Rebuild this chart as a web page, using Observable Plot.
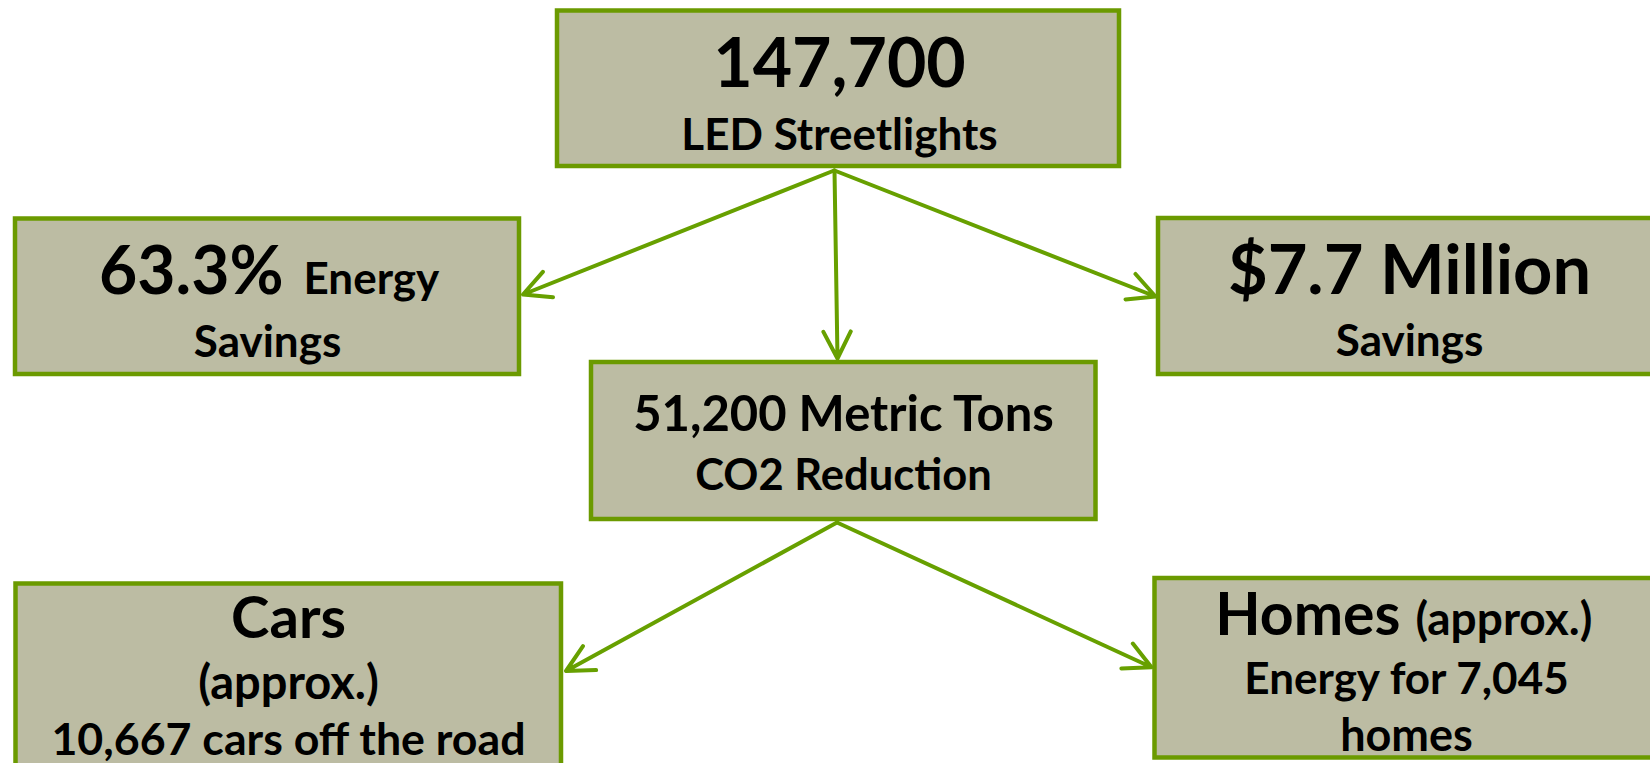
<!DOCTYPE html>
<html>
<head>
<meta charset="utf-8">
<script src="https://cdn.jsdelivr.net/npm/d3@7"></script>
<script src="https://cdn.jsdelivr.net/npm/@observablehq/plot@0.6"></script>
<style>
  html, body { margin: 0; padding: 0; background: #ffffff; overflow: hidden; }
  #chart svg { display: block; }
</style>
</head>
<body>
<div id="chart"></div>
<script>
// ---- content ----
const boxIds = ["lights", "energy", "money", "co2", "cars", "homes"];
const headlines = ["147,700", "63.3%", "$7.7 Million", "51,200 Metric Tons", "Cars", "Homes"];
const headSuffix = ["", "Energy", "", "", "", "(approx.)"];
const subLines = [
  ["LED Streetlights"],
  ["Savings"],
  ["Savings"],
  ["CO2 Reduction"],
  ["(approx.)", "10,667 cars off the road"],
  ["Energy for 7,045", "homes"]
];
const links = [
  ["lights", "energy"], ["lights", "co2"], ["lights", "money"],
  ["co2", "cars"], ["co2", "homes"]
];

// ---- layout (diagram geometry, in pixels) ----
const W = 1650, H = 763;
const boxLayout = {
  lights: {x1: 557, x2: 1119, y1: 10.5, y2: 166, cx: 839},
  energy: {x1: 15, x2: 519, y1: 218.5, y2: 374, cx: 267, split: 283, gap: 20},
  money:  {x1: 1158, x2: 1680, y1: 218, y2: 374, cx: 1409},
  co2:    {x1: 591, x2: 1095.5, y1: 362, y2: 519, cx: 843},
  cars:   {x1: 15.5, x2: 561, y1: 583.5, y2: 800, cx: 288},
  homes:  {x1: 1154.5, x2: 1680, y1: 578, y2: 757.5, cx: 1406, split: 1400, gap: 15}
};
const headBaseline = {lights: 86, energy: 293, money: 293, co2: 430, cars: 637, homes: 634};
const headSize = {lights: 68, energy: 66, money: 68.5, co2: 49, cars: 58, homes: 59};
const suffixSize = {energy: 44, homes: 46};
const subBaseline = {lights: [149], energy: [356], money: [355], co2: [489], cars: [698, 754], homes: [693, 750]};
const subSize = {lights: [44], energy: [44], money: [44], co2: [43.5], cars: [47, 44.7], homes: [44, 45]};
const linkLayout = [
  {x1: 833.6, y1: 170, x2: 522.5, y2: 294},
  {x1: 834, y1: 170, x2: 837, y2: 358},
  {x1: 834, y1: 170, x2: 1155, y2: 296},
  {x1: 836.5, y1: 522, x2: 565.5, y2: 670.5},
  {x1: 836.5, y1: 522, x2: 1151, y2: 666.7}
];

// ---- build tables ----
const boxes = boxIds.map(id => ({id, ...boxLayout[id]}));
const middleTexts = [], endTexts = [], startTexts = [];
boxIds.forEach((id, i) => {
  const L = boxLayout[id];
  if (headSuffix[i]) {
    endTexts.push({text: headlines[i], x: L.split, y: headBaseline[id], size: headSize[id]});
    startTexts.push({text: headSuffix[i], x: L.split + L.gap, y: headBaseline[id], size: suffixSize[id]});
  } else {
    middleTexts.push({text: headlines[i], x: L.cx, y: headBaseline[id], size: headSize[id]});
  }
  subLines[i].forEach((t, j) => {
    middleTexts.push({text: t, x: L.cx, y: subBaseline[id][j], size: subSize[id][j]});
  });
});
const arrows = links.map((l, i) => ({from: l[0], to: l[1], ...linkLayout[i]}));

const fill = "#bcbca3", border = "#6b9a00", arrowColor = "#67a000";
const font = "Lato, 'Open Sans', sans-serif";
const textOpts = (anchor) => ({
  x: "x", y: "y", text: "text", fontSize: "size", textAnchor: anchor,
  lineAnchor: "bottom", fontFamily: font, fontWeight: "bold", fill: "#000"
});

const chart = Plot.plot({
  width: W, height: H, margin: 0,
  x: {domain: [0, W], axis: null},
  y: {domain: [0, H], reverse: true, axis: null},
  style: {background: "#ffffff", overflow: "hidden"},
  marks: [
    Plot.rect(boxes, {x1: "x1", x2: "x2", y1: "y1", y2: "y2", fill, stroke: border, strokeWidth: 4.5}),
    Plot.arrow(arrows, {x1: "x1", y1: "y1", x2: "x2", y2: "y2", stroke: arrowColor, strokeWidth: 4, headLength: 11.3, headAngle: 54, bend: 0}),
    Plot.text(middleTexts, textOpts("middle")),
    Plot.text(endTexts, textOpts("end")),
    Plot.text(startTexts, textOpts("start"))
  ]
});
document.getElementById("chart").append(chart);
</script>
</body>
</html>
